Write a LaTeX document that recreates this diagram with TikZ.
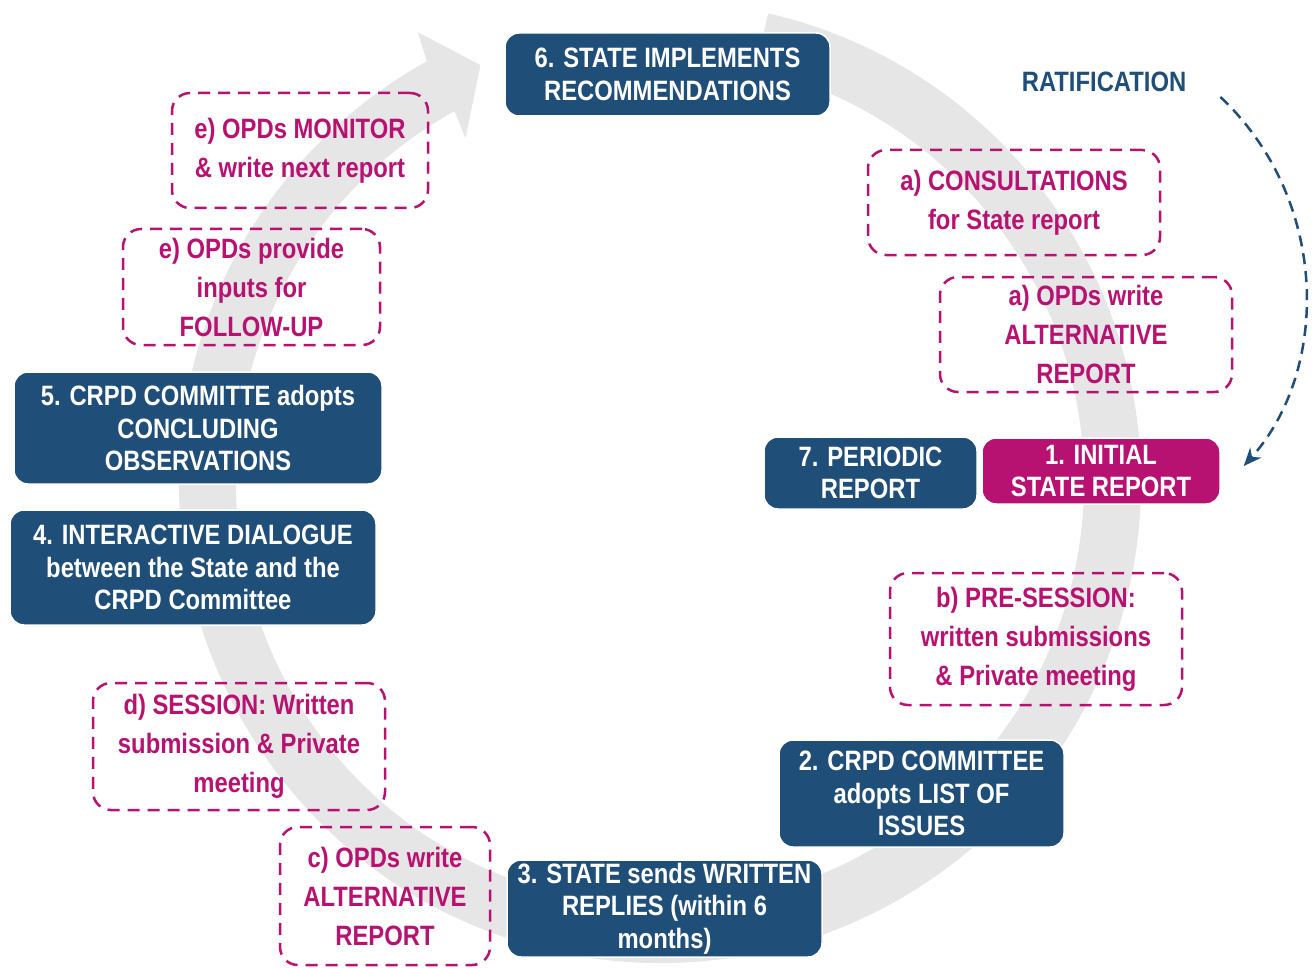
\documentclass[tikz,border=0pt]{standalone}
\usepackage{fontspec}
\setmainfont[FakeStretch=0.85]{Liberation Sans}
\usetikzlibrary{arrows.meta}
\definecolor{crpdblue}{RGB}{31,78,121}
\definecolor{opdpink}{RGB}{183,18,113}
\definecolor{bandgray}{RGB}{230,230,230}

\begin{document}
\begin{tikzpicture}[x=1pt,y=-1pt,
	stepbox/.style={fill=crpdblue, draw=white, line width=1.5pt, rounded corners=14pt,
		text=white, align=center, inner sep=0pt, font=\fontsize{28}{32.5}\selectfont\bfseries},
	opdbox/.style={draw=opdpink, line width=2.5pt, dash pattern=on 12pt off 8pt,
		rounded corners=18pt, text=opdpink, align=center, inner sep=0pt,
		font=\fontsize{28}{39}\selectfont\bfseries}]
		\useasboundingbox (0,0) rectangle (1313,968);
		% the big circular arrow behind everything
		\begin{scope}[shift={(660,482)}]
		\fill[bandgray] (-77:481) arc[start angle=-77, end angle=241, radius=481]
			-- (241.7:511) -- (246.7:454) -- (240.5:395) -- (241:424)
			arc[start angle=241, end angle=-77, radius=424] -- cycle;
		\end{scope}
		% steps
		\node[stepbox, minimum width=325pt, minimum height=83pt] (s6) at (667.5,74.5) {6. STATE IMPLEMENTS\\RECOMMENDATIONS};
		\node[stepbox, minimum width=213pt, minimum height=72pt] (s7) at (870.5,473) {7. PERIODIC\\REPORT};
		\node[stepbox, fill=opdpink, minimum width=238pt, minimum height=66pt] (s1) at (1101,471) {1. INITIAL\\STATE REPORT};
		\node[stepbox, minimum width=285pt, minimum height=107pt] (s2) at (921.5,793.5) {2. CRPD COMMITTEE\\adopts LIST OF\\ISSUES};
		\node[stepbox, minimum width=315pt, minimum height=97pt] (s3) at (664.5,908.5) {3. STATE sends WRITTEN\\REPLIES (within 6\\months)};
		\node[stepbox, minimum width=366pt, minimum height=115pt] (s4) at (193,567.5) {4. INTERACTIVE DIALOGUE\\between the State and the\\CRPD Committee};
		\node[stepbox, minimum width=368pt, minimum height=112pt] (s5) at (198,428) {5. CRPD COMMITTE adopts\\CONCLUDING\\OBSERVATIONS};
		% what the OPDs do
		\node[opdbox, minimum width=292pt, minimum height=105pt] (oa1) at (1014,202.5) {a) CONSULTATIONS\\for State report};
		\node[opdbox, minimum width=292pt, minimum height=115pt] (oa2) at (1086,334.5) {a) OPDs write\\ALTERNATIVE\\REPORT};
		\node[opdbox, minimum width=292pt, minimum height=132pt] (ob) at (1036,639) {b) PRE-SESSION:\\written submissions\\\& Private meeting};
		\node[opdbox, minimum width=210pt, minimum height=138pt] (oc) at (385,896) {c) OPDs write\\ALTERNATIVE\\REPORT};
		\node[opdbox, minimum width=292pt, minimum height=127pt] (od) at (239,746.5) {d) SESSION: Written\\submission \& Private\\meeting};
		\node[opdbox, minimum width=257pt, minimum height=116pt] (oe2) at (251.5,287) {e) OPDs provide\\inputs for\\FOLLOW-UP};
		\node[opdbox, minimum width=256pt, minimum height=115pt] (oe1) at (300,150.5) {e) OPDs MONITOR\\\& write next report};
		% ratification
		\node[text=crpdblue, inner sep=0pt, font=\fontsize{28}{32.5}\selectfont\bfseries] (rat) at (1104,82) {RATIFICATION};
		\draw[crpdblue, line width=2.5pt, dash pattern=on 11pt off 7pt, -{Stealth[length=18pt,width=15pt]}]
			([shift={(34,15)}]rat.east) .. controls (1330,200) and (1330,370) .. ([shift={(23,-5)}]s1.east);
\end{tikzpicture}
\end{document}
